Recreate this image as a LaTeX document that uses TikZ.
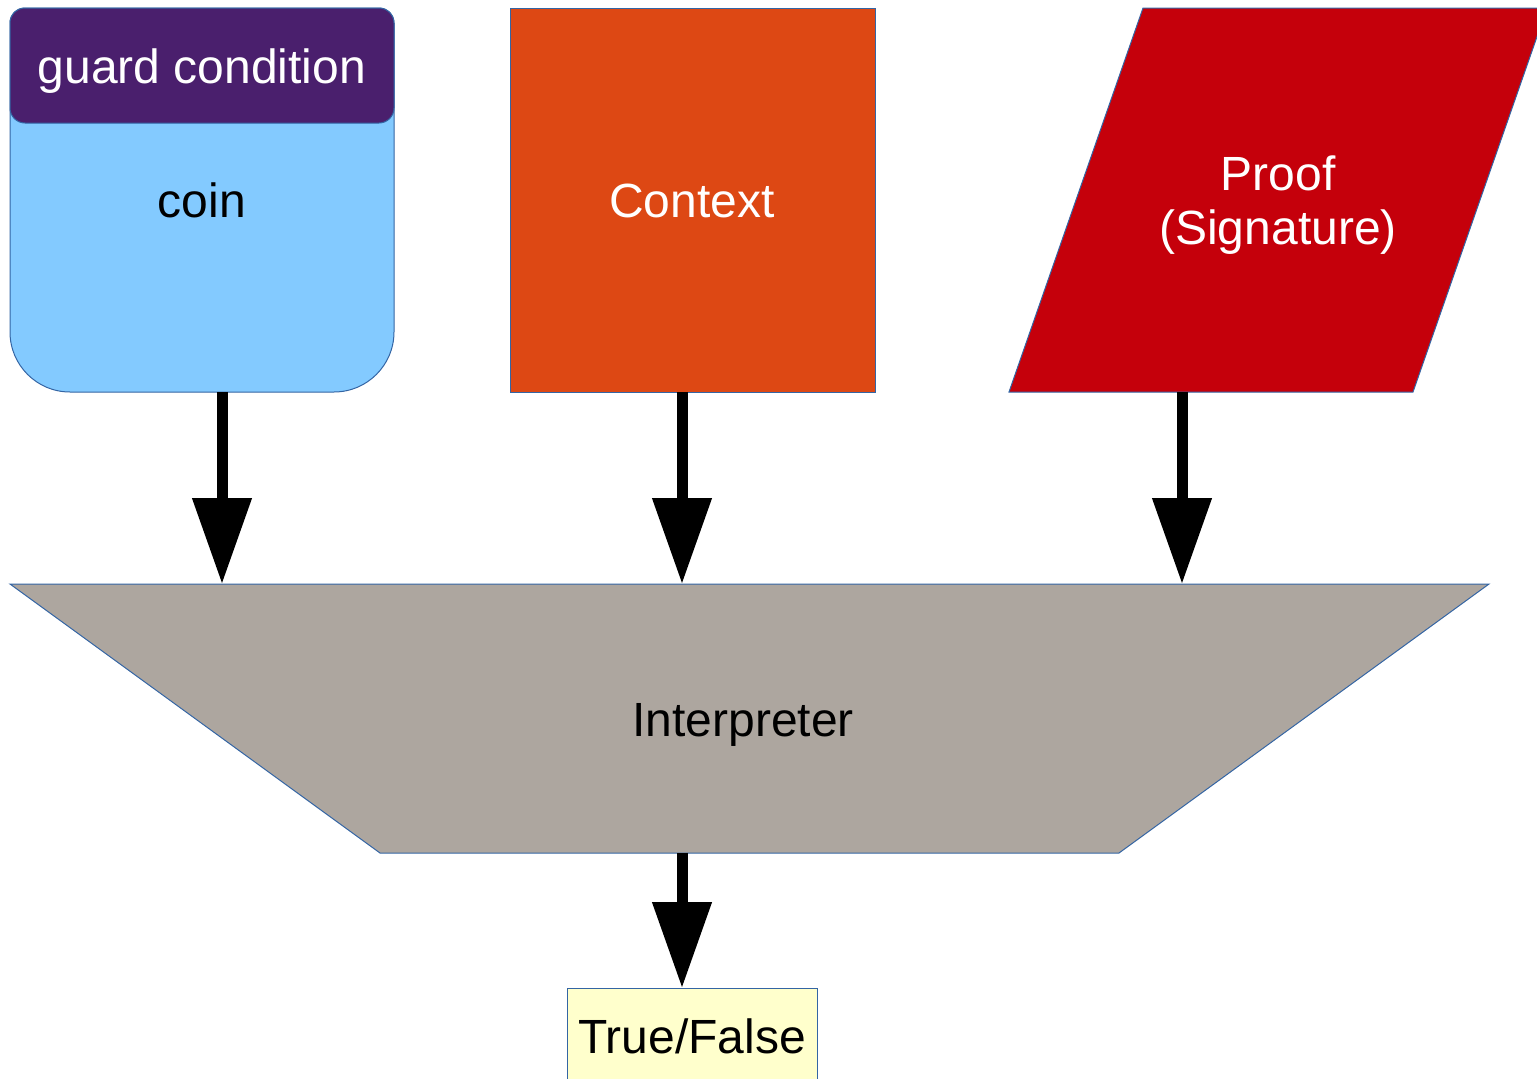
\documentclass[tikz,border=0pt]{standalone}
\usepackage{fontspec}
\setmainfont{Liberation Sans}
\usetikzlibrary{arrows.meta}
\definecolor{bordercol}{HTML}{3465A4}
\definecolor{purplehead}{HTML}{4A1F6D}
\definecolor{lightbluebody}{HTML}{83CAFF}
\definecolor{contextorange}{HTML}{DD4814}
\definecolor{proofred}{HTML}{C5000B}
\definecolor{interpgray}{HTML}{ADA69F}
\definecolor{resultyellow}{HTML}{FFFFCC}
\tikzset{
  frame/.style={inner sep=0pt, outer sep=0pt, draw=none, minimum width=#1},
  shapeline/.style={draw=bordercol, line width=1pt},
  bigtext/.style={font=\fontsize{48}{54}\selectfont, align=center, inner sep=0pt},
  arr/.style={line width=11pt, -{Triangle[length=86pt, width=57pt]}},
}
\begin{document}
\begin{tikzpicture}[x=1pt, y=-1pt]
\useasboundingbox (0,0) rectangle (1537,1079);
% guard condition box
\path[shapeline, fill=lightbluebody] (10,200) [rounded corners=15pt] -- (10,8) -- (394,8) -- (394,200) [rounded corners=60pt] -- (394,392) -- (10,392) -- (10,200) -- cycle;
\path[shapeline, fill=purplehead, rounded corners=15pt] (10,8) rectangle (394,123);
\node[frame=384pt, minimum height=384pt] (guard) at (202,200) {};
\node[bigtext, text=white] (guardlabel) at (202,71) {guard condition};
\node[bigtext, text=black] (coin) at (202,200) {coin};
% context
\node[shapeline, fill=contextorange, minimum width=365pt, minimum height=384pt, inner sep=0pt, outer sep=0pt] (context) at (692.5,200) {};
\node[bigtext, text=white] (contextlabel) at (692,201) {Context};
% proof
\path[shapeline, fill=proofred] (1143,8) -- (1547,8) -- (1413,392) -- (1009,392) -- cycle;
\node[frame=404pt, minimum height=384pt] (proof) at (1182,200) {};
\node[bigtext, text=white] (prooflabel) at (1278,205) {Proof\\(Signature)};
% interpreter
\path[shapeline, fill=interpgray] (10,584) -- (1489,584) -- (1119,853) -- (380,853) -- cycle;
\node[frame=1479pt, minimum height=269pt] (interp) at (682,718.5) {};
\node[bigtext, text=black] (interplabel) at (743,725) {Interpreter};
% result
\node[shapeline, fill=resultyellow, minimum width=250pt, minimum height=140pt, inner sep=0pt, outer sep=0pt, anchor=north] (result) at (692,988) {};
\node[bigtext, text=black] (resultlabel) at (692,1036) {True/False};
% arrows
\coordinate (gA) at (222,392);
\coordinate (cA) at (682,392);
\coordinate (pA) at (1182,392);
\coordinate (iB) at (682,853);
\draw[arr] (gA) -- (gA |- interp.north);
\draw[arr] (cA) -- (cA |- interp.north);
\draw[arr] (pA) -- (pA |- interp.north);
\draw[arr] (iB) -- (iB |- result.north);
\end{tikzpicture}
\end{document}
